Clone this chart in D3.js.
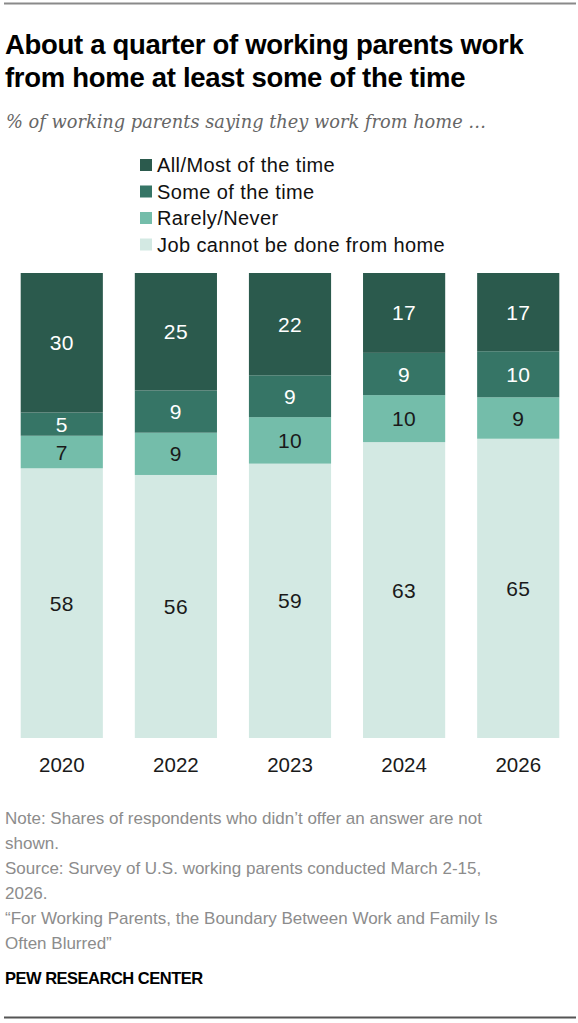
<!DOCTYPE html>
<html>
<head>
    <meta charset="utf-8">
    <title>Working parents work from home</title>
    <script src="https://d3js.org/d3.v7.min.js"></script>
    <style>
        body { margin: 0; background: #fff; }
    </style>
</head>
<body>
<div id="chart"></div>
<script>
    // data
    let years = ["2020", "2022", "2023", "2024", "2026"];
    let categories = ["Job cannot be done from home", "Rarely/Never", "Some of the time", "All/Most of the time"];
    let jobCannot = [58, 56, 59, 63, 65];
    let rarelyNever = [7, 9, 10, 10, 9];
    let someTime = [5, 9, 9, 9, 10];
    let allMost = [30, 25, 22, 17, 17];
    let legendOrder = ["All/Most of the time", "Some of the time", "Rarely/Never", "Job cannot be done from home"];

    let colors = {
        "All/Most of the time": "#2b5a4d",
        "Some of the time": "#367566",
        "Rarely/Never": "#74bdaa",
        "Job cannot be done from home": "#d3e9e3"
    };
    let textColors = {
        "All/Most of the time": "#fff",
        "Some of the time": "#fff",
        "Rarely/Never": "#1a1a1a",
        "Job cannot be done from home": "#1a1a1a"
    };

    let table = years.map(function(y, i) {
        let row = {year: y};
        row[categories[0]] = jobCannot[i];
        row[categories[1]] = rarelyNever[i];
        row[categories[2]] = someTime[i];
        row[categories[3]] = allMost[i];
        return row;
    });

    let W = 578, H = 1023;
    let svg = d3.select("#chart").append("svg")
        .attr("width", W)
        .attr("height", H);

    let sans = "'Liberation Sans', Arial, sans-serif";

    // rules top and bottom
    svg.append("line").attr("x1", 4).attr("x2", 576).attr("y1", 3.5).attr("y2", 3.5)
        .attr("stroke", "#8a8a8a").attr("stroke-width", 2);
    svg.append("line").attr("x1", 4).attr("x2", 576).attr("y1", 1017.5).attr("y2", 1017.5)
        .attr("stroke", "#555").attr("stroke-width", 2);

    // title
    let title = svg.append("text")
        .attr("font-family", sans)
        .attr("font-weight", "bold")
        .attr("font-size", "27.5px")
        .attr("letter-spacing", "-0.3px")
        .attr("fill", "#000");
    title.append("tspan").attr("x", 5).attr("y", 54).text("About a quarter of working parents work");
    title.append("tspan").attr("x", 5).attr("y", 87).text("from home at least some of the time");

    svg.append("text")
        .attr("x", 6).attr("y", 128)
        .attr("font-family", "'DejaVu Serif', Georgia, serif")
        .attr("font-style", "italic")
        .attr("font-size", "17.8px")
        .attr("fill", "#666")
        .text("% of working parents saying they work from home …");

    // legend
    let legend = svg.append("g").attr("transform", "translate(140,0)");
    legendOrder.forEach(function(c, i) {
        let cy = 165 + i * 26.5;
        legend.append("rect")
            .attr("x", 0).attr("y", cy - 6)
            .attr("width", 12).attr("height", 12)
            .attr("fill", colors[c]);
        legend.append("text")
            .attr("x", 17).attr("y", cy + 7)
            .attr("font-family", sans)
            .attr("font-size", "20px")
            .attr("letter-spacing", "0.4px")
            .attr("fill", "#111")
            .text(c);
    });

    // bars
    let xScale = d3.scaleBand()
        .domain(years)
        .range([7, 573])
        .paddingInner(0.28)
        .paddingOuter(0.12);

    let yScale = d3.scaleLinear()
        .domain([0, 1])
        .range([738, 273]);

    let series = d3.stack()
        .keys(categories)
        .offset(d3.stackOffsetExpand)(table);

    let groups = svg.append("g").selectAll("g")
        .data(series)
        .enter()
        .append("g")
        .attr("fill", function(d) { return colors[d.key]; });

    groups.selectAll("rect")
        .data(function(d) { return d; })
        .enter()
        .append("rect")
        .attr("x", function(d) { return xScale(d.data.year); })
        .attr("y", function(d) { return yScale(d[1]); })
        .attr("width", xScale.bandwidth())
        .attr("height", function(d) { return yScale(d[0]) - yScale(d[1]); });

    // value labels
    series.forEach(function(s) {
        svg.append("g").selectAll("text")
            .data(s)
            .enter()
            .append("text")
            .attr("x", function(d) { return xScale(d.data.year) + xScale.bandwidth() / 2; })
            .attr("y", function(d) { return (yScale(d[0]) + yScale(d[1])) / 2; })
            .attr("dy", "0.36em")
            .attr("text-anchor", "middle")
            .attr("font-family", sans)
            .attr("font-size", "21px")
            .attr("letter-spacing", "0.4px")
            .attr("fill", textColors[s.key])
            .text(function(d) { return d.data[s.key]; });
    });

    // year axis
    let xAxis = d3.axisBottom(xScale).tickSize(0).tickPadding(0);
    let axisG = svg.append("g")
        .attr("transform", "translate(0,757)")
        .call(xAxis);
    axisG.select(".domain").remove();
    axisG.selectAll("text")
        .attr("font-family", sans)
        .attr("font-size", "20.5px")
        .attr("fill", "#1a1a1a")
        .attr("dy", "0.71em");

    // notes
    let notes = [
        "Note: Shares of respondents who didn’t offer an answer are not",
        "shown.",
        "Source: Survey of U.S. working parents conducted March 2-15,",
        "2026.",
        "“For Working Parents, the Boundary Between Work and Family Is",
        "Often Blurred”"
    ];
    svg.append("g").selectAll("text")
        .data(notes)
        .enter()
        .append("text")
        .attr("x", 5)
        .attr("y", function(d, i) { return 824 + i * 25; })
        .attr("font-family", sans)
        .attr("font-size", "17px")
        .attr("fill", "#8c8c8c")
        .text(function(d) { return d; });

    svg.append("text")
        .attr("x", 5).attr("y", 984)
        .attr("font-family", "'Liberation Sans Narrow', 'Liberation Sans', sans-serif")
        .attr("font-weight", "bold")
        .attr("font-size", "16.5px")
        .attr("letter-spacing", "-0.5px")
        .attr("fill", "#000")
        .text("PEW RESEARCH CENTER");
</script>
</body>
</html>
